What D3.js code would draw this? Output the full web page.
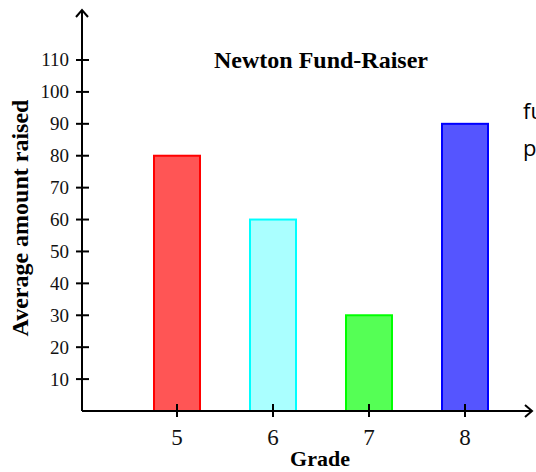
<!DOCTYPE html>
<html><head><meta charset="utf-8">
<script src="https://cdn.jsdelivr.net/npm/d3@7"></script>
<style>html,body{margin:0;padding:0;background:#fff;overflow:hidden}</style>
</head><body>
<script>
const grades = [5, 6, 7, 8];
const amounts = [80, 60, 30, 90];
const fills = ["#ff5555", "#aaffff", "#55ff55", "#5555ff"];
const strokes = ["#ff0000", "#00ffff", "#00ff00", "#0000ff"];
const yTicks = [10, 20, 30, 40, 50, 60, 70, 80, 90, 100, 110];
const title = "Newton Fund-Raiser";
const xTitle = "Grade";
const yTitle = "Average amount raised";
const sideText = ["fu", "p"];

const W = 536, H = 472;
const svg = d3.select("body").append("svg").attr("width", W).attr("height", H);

const x = d3.scaleLinear().domain([5, 8]).range([177, 465]);
const y = d3.scaleLinear().domain([0, 110]).range([411, 60]);
const originX = 82, originY = y(0);
const barW = 46;

// bars
svg.selectAll("rect.bar").data(grades).enter().append("rect")
  .attr("x", (d) => x(d) - barW / 2)
  .attr("y", (d, i) => y(amounts[i]))
  .attr("width", barW)
  .attr("height", (d, i) => y(0) - y(amounts[i]))
  .attr("fill", (d, i) => fills[i])
  .attr("stroke", (d, i) => strokes[i])
  .attr("stroke-width", 2);

const ink = "#000";
const serif = "Liberation Serif, Times New Roman, serif";
// y axis line + arrow
svg.append("line").attr("x1", originX).attr("x2", originX).attr("y1", originY).attr("y2", 10)
  .attr("stroke", ink).attr("stroke-width", 2);
svg.append("path").attr("d", `M${originX - 6},${17} L${originX},${10} L${originX + 6},${17}`)
  .attr("fill", "none").attr("stroke", ink).attr("stroke-width", 2);
// x axis line + arrow
svg.append("line").attr("x1", originX).attr("x2", 532).attr("y1", originY).attr("y2", originY)
  .attr("stroke", ink).attr("stroke-width", 2);
svg.append("path").attr("d", `M${525},${originY - 6} L${532},${originY} L${525},${originY + 6}`)
  .attr("fill", "none").attr("stroke", ink).attr("stroke-width", 2);

// y ticks
const yg = svg.append("g");
yg.selectAll("line").data(yTicks).enter().append("line")
  .attr("x1", originX - 6).attr("x2", originX + 7)
  .attr("y1", (d) => y(d)).attr("y2", (d) => y(d))
  .attr("stroke", ink).attr("stroke-width", 2);
yg.selectAll("text").data(yTicks).enter().append("text")
  .attr("x", 69).attr("y", (d) => y(d)).attr("dy", "0.34em")
  .attr("text-anchor", "end")
  .attr("font-family", serif)
  .attr("font-size", 19).attr("fill", "#111").text((d) => d);

// x ticks
const xg = svg.append("g");
xg.selectAll("line").data(grades).enter().append("line")
  .attr("x1", (d) => x(d)).attr("x2", (d) => x(d))
  .attr("y1", originY - 7).attr("y2", originY + 6)
  .attr("stroke", ink).attr("stroke-width", 2);
xg.selectAll("text").data(grades).enter().append("text")
  .attr("x", (d) => x(d)).attr("y", 445)
  .attr("text-anchor", "middle")
  .attr("font-family", serif)
  .attr("font-size", 23).attr("fill", "#111").text((d) => d);

// titles
svg.append("text").attr("x", 321).attr("y", 68).attr("text-anchor", "middle")
  .attr("font-family", serif).attr("font-weight", "bold")
  .attr("font-size", 24).attr("fill", "#000").text(title);
svg.append("text").attr("x", 320).attr("y", 466).attr("text-anchor", "middle")
  .attr("font-family", serif).attr("font-weight", "bold")
  .attr("font-size", 22).attr("fill", "#000").text(xTitle);
svg.append("text").attr("transform", "translate(28,218) rotate(-90)").attr("text-anchor", "middle")
  .attr("font-family", serif).attr("font-weight", "bold")
  .attr("font-size", 24).attr("fill", "#000").text(yTitle);

// clipped side text
svg.selectAll("text.side").data(sideText).enter().append("text").attr("class", "side")
  .attr("x", 523).attr("y", (d, i) => 119 + i * 37)
  .attr("font-family", "Open Sans, Liberation Sans, sans-serif")
  .attr("font-size", 22).attr("fill", "#000").text((d) => d);
</script>
</body></html>
